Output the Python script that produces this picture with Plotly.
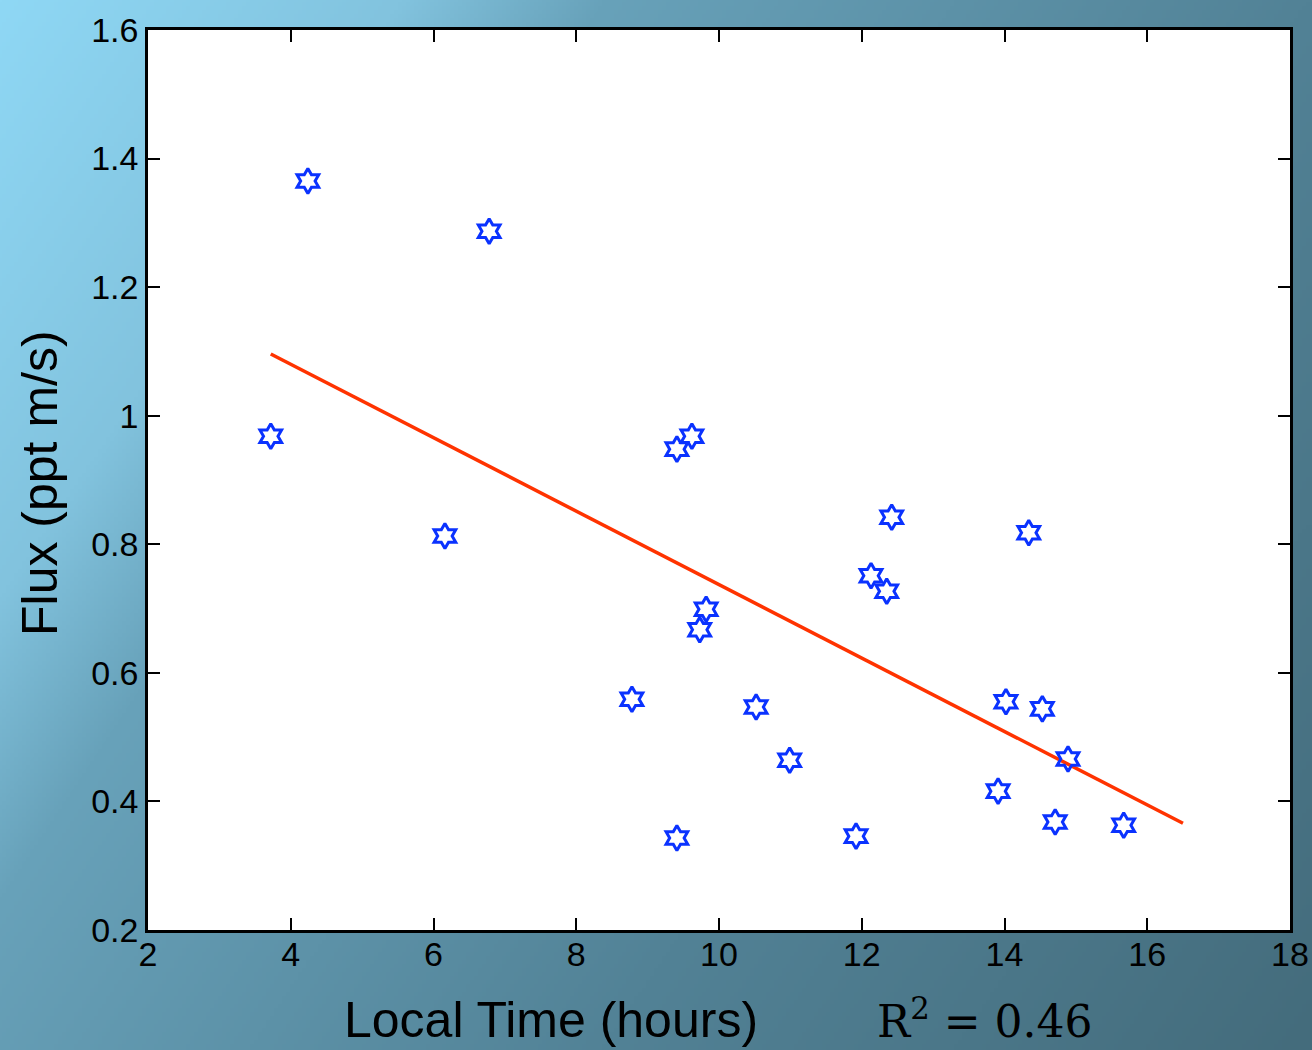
import base64, struct, zlib
import numpy as np
import plotly.graph_objects as go

# ---- data ----
local_time = [3.72, 4.24, 6.78, 6.16, 8.78, 9.41, 9.62, 9.82, 9.73, 9.41, 10.52, 10.99,
              11.92, 12.13, 12.35, 12.42, 13.91, 14.02, 14.34, 14.53, 14.71, 14.89, 15.67]
flux = [0.968, 1.365, 1.287, 0.813, 0.559, 0.948, 0.968, 0.699, 0.667, 0.343, 0.547, 0.464,
        0.346, 0.751, 0.727, 0.842, 0.416, 0.555, 0.818, 0.544, 0.368, 0.466, 0.363]
fit_x = [3.72, 16.50]
fit_y = [1.096, 0.366]
r_squared = "0.46"
x_ticks = [2, 4, 6, 8, 10, 12, 14, 16, 18]
y_ticks = [0.2, 0.4, 0.6, 0.8, 1.0, 1.2, 1.4, 1.6]
y_tick_text = ["0.2", "0.4", "0.6", "0.8", "1", "1.2", "1.4", "1.6"]


# ---- background gradient image (PNG built in memory) ----
def gradient_png(w, h):
    xs = np.linspace(0, 1, w)[None, :]
    ys = np.linspace(0, 1, h)[:, None]
    d = 0.65 * xs + 0.35 * ys
    stops = [0.0, 0.2, 0.3, 0.65, 1.0]
    cols = np.array([[143, 216, 245], [130, 195, 222], [104, 162, 186],
                     [82, 130, 150], [68, 108, 124]], dtype=float)
    img = np.zeros((h, w, 3))
    for c in range(3):
        img[:, :, c] = np.interp(d, stops, cols[:, c])
    img = img.astype(np.uint8)
    raw = b"".join(b"\x00" + img[r].tobytes() for r in range(h))

    def chunk(t, data):
        c = struct.pack(">I", len(data)) + t + data
        return c + struct.pack(">I", zlib.crc32(t + data) & 0xffffffff)

    png = b"\x89PNG\r\n\x1a\n"
    png += chunk(b"IHDR", struct.pack(">IIBBBBB", w, h, 8, 2, 0, 0, 0))
    png += chunk(b"IDAT", zlib.compress(raw, 9))
    png += chunk(b"IEND", b"")
    return "data:image/png;base64," + base64.b64encode(png).decode()


bg = gradient_png(328, 263)

tick_font = dict(family="Liberation Sans Narrow, Liberation Sans, Arial", size=34, color="black")
title_font = dict(family="Liberation Sans Narrow, Liberation Sans, Arial", size=50, color="black")

fig = go.Figure()
fig.add_trace(go.Scatter(x=fit_x, y=fit_y, mode="lines",
                         line=dict(color="#ff3300", width=3.5), showlegend=False))
fig.add_trace(go.Scatter(x=local_time, y=flux, mode="markers",
                         marker=dict(symbol="hexagram-open", size=19, color="#0a32ff",
                                     line=dict(width=3, color="#0a32ff")),
                         showlegend=False))

axis_common = dict(showgrid=False, zeroline=False, showline=True, linecolor="black",
                   linewidth=2.5, mirror="ticks", ticks="inside", ticklen=12,
                   tickwidth=2, tickcolor="black", tickfont=tick_font, automargin=False,
                   ticklabeloverflow="allow")

fig.update_xaxes(range=[2, 18], tickvals=x_ticks, ticklabelstandoff=-8, **axis_common)
fig.update_yaxes(range=[0.2, 1.6], tickvals=y_ticks, ticktext=y_tick_text, **axis_common)

W_PLOT = 1142
H_PLOT = 900
fig.update_layout(
    width=1312, height=1050,
    margin=dict(l=148, r=22, t=30, b=120, autoexpand=False),
    paper_bgcolor="#5a8ea5",
    plot_bgcolor="white",
    images=[dict(source=bg, xref="paper", yref="paper", x=-148 / W_PLOT, y=1 + 30 / H_PLOT,
                 sizex=1312 / W_PLOT, sizey=1050 / H_PLOT, sizing="stretch",
                 xanchor="left", yanchor="top", layer="below")],
    shapes=[dict(type="rect", xref="paper", yref="paper", x0=0, x1=1, y0=0, y1=1,
                 fillcolor="white", line=dict(width=0), layer="below")],
    annotations=[
        dict(text="Local Time (hours)", xref="paper", yref="paper",
             x=(551 - 148) / W_PLOT, y=-(1020 - 930) / H_PLOT, showarrow=False,
             xanchor="center", yanchor="middle", font=title_font),
        dict(text="Flux (ppt m/s)", xref="paper", yref="paper",
             x=-(148 - 40) / W_PLOT, y=(930 - 483) / H_PLOT, showarrow=False, textangle=-90,
             xanchor="center", yanchor="middle", font=title_font),
        dict(text="R<sup>2</sup> = " + r_squared, xref="paper", yref="paper",
             x=(985 - 148) / W_PLOT, y=-(1018 - 930) / H_PLOT, showarrow=False,
             xanchor="center", yanchor="middle",
             font=dict(family="DejaVu Serif, Liberation Serif", size=44, color="black")),
    ],
)

fig.write_html("out.html")
